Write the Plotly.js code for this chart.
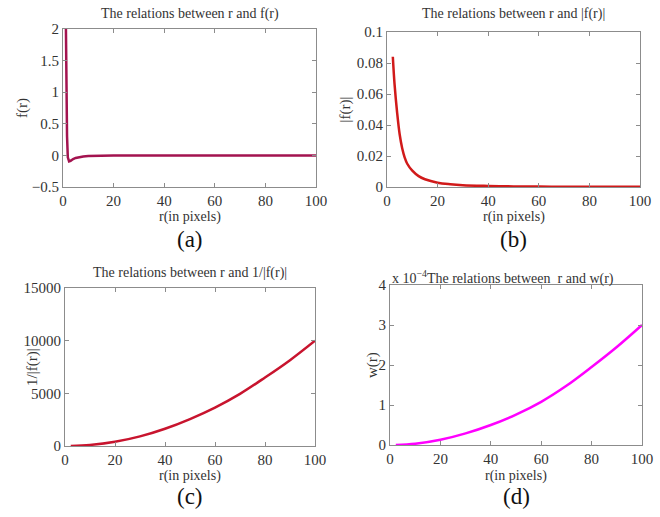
<!DOCTYPE html>
<html>
<head>
<meta charset="utf-8">
<script src="https://cdn.plot.ly/plotly-3.0.1.min.js"></script>
<style>html,body{margin:0;padding:0;background:#fff;}#chart{width:660px;height:517px;}</style>
</head>
<body>
<div id="chart"></div>
<script>
// (a) f(r)
var rA = [1.0, 1.3, 1.6, 1.9, 2.1, 2.4, 3.0, 3.5, 4, 5, 6, 7, 8, 10, 12, 15, 20, 25, 30, 40, 50, 60, 70, 80, 90, 100];
var fA = [2.6, 1.2, 0.3, -0.03, -0.08, -0.095, -0.085, -0.07, -0.058, -0.04, -0.03, -0.022, -0.016, -0.009, -0.006, -0.003, -0.0015, -0.0008, -0.0005, -0.0002, -0.0001, 0, 0, 0, 0, 0];
// (b) |f(r)|
var rB = [2.3, 3, 4, 5, 6, 7, 8, 10, 12.5, 15, 20, 25, 30, 40, 50, 60, 70, 80, 90, 100];
var fB = [0.084, 0.066, 0.048, 0.034, 0.025, 0.019, 0.015, 0.0105, 0.007, 0.005, 0.0028, 0.0018, 0.0012, 0.0007, 0.0004, 0.00028, 0.0002, 0.00016, 0.00012, 0.0001];
// (c) 1/|f(r)|
var rC = [2.3, 10, 20, 30, 40, 50, 60, 70, 80, 90, 100];
var invC = [10, 100, 400, 910, 1640, 2560, 3650, 4950, 6500, 8150, 10000];
// (d) w(r)
var rD = [2.3, 10, 20, 30, 40, 50, 60, 70, 80, 90, 100];
var wD = [0.002e-4, 0.03e-4, 0.13e-4, 0.29e-4, 0.5e-4, 0.76e-4, 1.08e-4, 1.48e-4, 1.95e-4, 2.45e-4, 3.0e-4];

var xTicks = [0, 20, 40, 60, 80, 100];
var yTicksA = [-0.5, 0, 0.5, 1, 1.5, 2];
var yTicksB = [0, 0.02, 0.04, 0.06, 0.08, 0.1];
var yTicksC = [0, 5000, 10000, 15000];
var yTickTextC = ['0', '5000', '10000', '15000'];
var yTicksD = [0, 1e-4, 2e-4, 3e-4, 4e-4];
var yTickTextD = ['0', '1', '2', '3', '4'];

var titles = ['The relations between r and f(r)', 'The relations between r and |f(r)|', 'The relations between r and 1/|f(r)|', 'x 10<sup>\u22124</sup>The relations between  r and w(r)'];
var yTitles = ['f(r)', '|f(r)|', '1/|f(r)|', 'w(r)'];
var panelLabels = ['(a)', '(b)', '(c)', '(d)'];

var W = 660, H = 517;
var FONT = 'Liberation Serif';
var TXT = '#333333';

function px(x) { return x / W; }
function py(y) { return 1 - y / H; }

// pixel boxes: left, right, top, bottom
var boxes = [
  [63, 316, 29, 187],
  [387, 640, 32, 187],
  [65, 315, 288, 446],
  [390, 642, 285, 445]
];

var traces = [
  {x: rA, y: fA, xaxis: 'x', yaxis: 'y', mode: 'lines', line: {color: '#a3134f', width: 2.5, shape: 'linear'}},
  {x: rB, y: fB, xaxis: 'x2', yaxis: 'y2', mode: 'lines', line: {color: '#d11a1a', width: 2.5, shape: 'spline'}},
  {x: rC, y: invC, xaxis: 'x3', yaxis: 'y3', mode: 'lines', line: {color: '#c8142e', width: 2.5, shape: 'spline'}},
  {x: rD, y: wD, xaxis: 'x4', yaxis: 'y4', mode: 'lines', line: {color: '#ff00ff', width: 2.5, shape: 'spline'}}
];

function xax(i) {
  var b = boxes[i];
  return {
    domain: [px(b[0]), px(b[1])], range: [0, 100], tickvals: xTicks,
    anchor: i === 0 ? 'y' : 'y' + (i + 1),
    showline: true, mirror: 'ticks', linecolor: '#8c8c8c', linewidth: 1,
    ticks: 'inside', ticklen: 4, tickcolor: '#8c8c8c', showgrid: false, zeroline: false,
    tickfont: {family: FONT, size: 15, color: TXT}
  };
}
function yax(i, range, tv, tt) {
  var b = boxes[i];
  var o = {
    domain: [py(b[3]), py(b[2])], range: range, tickvals: tv,
    anchor: i === 0 ? 'x' : 'x' + (i + 1),
    showline: true, mirror: 'ticks', linecolor: '#8c8c8c', linewidth: 1,
    ticks: 'inside', ticklen: 4, tickcolor: '#8c8c8c', showgrid: false, zeroline: false,
    tickfont: {family: FONT, size: 15, color: TXT}
  };
  if (tt) o.ticktext = tt;
  return o;
}

var ann = [];
var titleY = [14, 14, 273, 277];
var xTitleY = [217, 217, 476, 476];
var yTitleX = [22, 345, 32, 372];
var labelY = [240, 240, 496, 496];
for (var i = 0; i < 4; i++) {
  var b = boxes[i];
  var t = {text: titles[i], y: py(titleY[i]), xref: 'paper', yref: 'paper', showarrow: false, yanchor: 'middle', font: {family: FONT, size: 14, color: TXT}};
  if (i === 3) { t.x = px(390); t.xanchor = 'left'; } else { t.x = px((b[0] + b[1]) / 2); t.xanchor = 'center'; }
  ann.push(t);
  ann.push({text: 'r(in pixels)', x: px((b[0] + b[1]) / 2), y: py(xTitleY[i]), xref: 'paper', yref: 'paper', showarrow: false, xanchor: 'center', yanchor: 'middle', font: {family: FONT, size: 14, color: TXT}});
  ann.push({text: yTitles[i], x: px(yTitleX[i]), y: py((b[2] + b[3]) / 2), xref: 'paper', yref: 'paper', showarrow: false, textangle: -90, xanchor: 'center', yanchor: 'middle', font: {family: FONT, size: 15, color: TXT}});
  ann.push({text: panelLabels[i], x: px((b[0] + b[1]) / 2), y: py(labelY[i]), xref: 'paper', yref: 'paper', showarrow: false, xanchor: 'center', yanchor: 'middle', font: {family: FONT, size: 23, color: '#111'}});
}

var layout = {
  width: W, height: H, margin: {l: 0, r: 0, t: 0, b: 0},
  paper_bgcolor: '#fff', plot_bgcolor: '#fff', showlegend: false,
  xaxis: xax(0), xaxis2: xax(1), xaxis3: xax(2), xaxis4: xax(3),
  yaxis: yax(0, [-0.5, 2], yTicksA),
  yaxis2: yax(1, [0, 0.1], yTicksB),
  yaxis3: yax(2, [0, 15000], yTicksC, yTickTextC),
  yaxis4: yax(3, [0, 4e-4], yTicksD, yTickTextD),
  annotations: ann
};

Plotly.newPlot('chart', traces, layout, {staticPlot: true, displayModeBar: false});
</script>
</body>
</html>
